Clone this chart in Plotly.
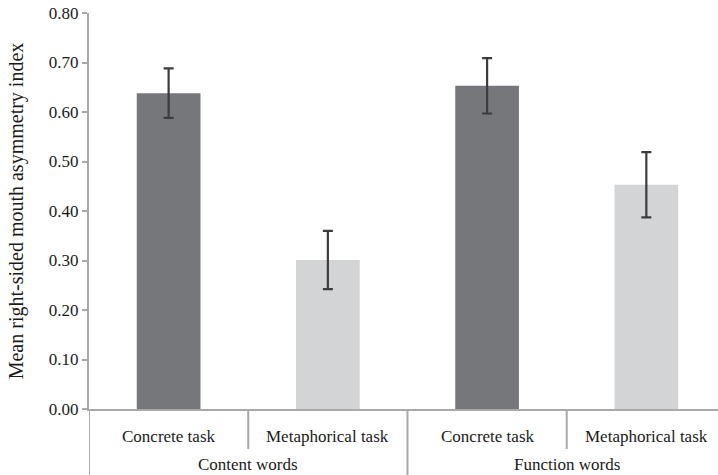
import plotly.graph_objects as go

tasks = ["Concrete task", "Metaphorical task", "Concrete task", "Metaphorical task"]
groups = ["Content words", "Function words"]
means = [0.638, 0.301, 0.653, 0.453]
errors = [0.050, 0.059, 0.056, 0.066]
bar_colors = ["#76777b", "#d3d4d6", "#76777b", "#d3d4d6"]
y_ticks = [0.0, 0.1, 0.2, 0.3, 0.4, 0.5, 0.6, 0.7, 0.8]
y_title = "Mean right-sided mouth asymmetry index"

xs = list(range(len(means)))
FONT = "Liberation Serif, Times New Roman, DejaVu Serif, serif"
AXC = "#a9a9a9"
TXT = "#1a1a1a"

fig = go.Figure()
fig.add_trace(go.Bar(
    x=xs, y=means, width=0.4,
    marker=dict(color=bar_colors, line=dict(width=0)),
    error_y=dict(type="data", array=errors, visible=True,
                 color="#3c3c3c", thickness=2.2, width=5),
    showlegend=False,
))

H = 475
top, bottom = 13, 66
plot_h = H - top - bottom

annotations = []
for i, t in enumerate(tasks):
    annotations.append(dict(x=i, xref="x", y=-27 / plot_h, yref="paper",
                            text=t, showarrow=False, xanchor="center", yanchor="middle",
                            font=dict(family=FONT, size=17, color=TXT)))
for g_i, g in enumerate(groups):
    annotations.append(dict(x=2 * g_i + 0.5, xref="x", y=-55 / plot_h, yref="paper",
                            text=g, showarrow=False, xanchor="center", yanchor="middle",
                            font=dict(family=FONT, size=17, color=TXT)))

shapes = []
for xb in [0.5, 2.5]:
    shapes.append(dict(type="line", xref="x", yref="paper", x0=xb, x1=xb,
                       y0=0, y1=-40 / plot_h, line=dict(color=AXC, width=2)))
for xb in [-0.5, 1.5]:
    shapes.append(dict(type="line", xref="x", yref="paper", x0=xb, x1=xb,
                       y0=0, y1=-bottom / plot_h, line=dict(color=AXC, width=2)))

fig.update_layout(
    width=718, height=H,
    margin=dict(l=89, r=0, t=top, b=bottom, autoexpand=False),
    paper_bgcolor="white", plot_bgcolor="white",
    font=dict(family=FONT, color=TXT),
    annotations=annotations, shapes=shapes,
    xaxis=dict(range=[-0.5, 3.45], showticklabels=False, ticks="",
               showgrid=False, zeroline=False, showline=True,
               linecolor=AXC, linewidth=2, automargin=False),
    yaxis=dict(range=[0, 0.8], tickvals=y_ticks,
               ticktext=[f"{v:.2f}" for v in y_ticks],
               ticks="outside", ticklen=5, tickwidth=2, tickcolor=AXC,
               showgrid=False, zeroline=False, showline=True,
               linecolor=AXC, linewidth=2, automargin=False,
               tickfont=dict(family=FONT, size=17, color=TXT),
               title=dict(text=y_title, standoff=20,
                          font=dict(family=FONT, size=20, color=TXT))),
)

fig.write_html("out.html", config={"displayModeBar": False},
               post_script="document.body.style.margin='0';document.body.style.overflow='hidden';")
